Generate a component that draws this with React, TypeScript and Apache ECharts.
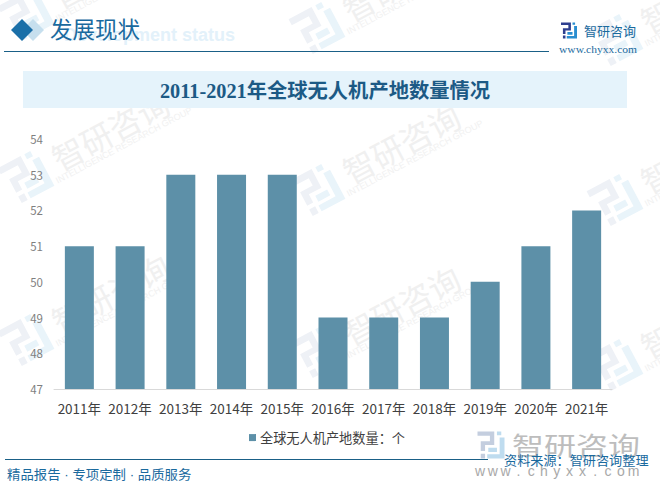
import React, { useEffect, useRef } from "react";
import * as echarts from "echarts";

const categories = ["2011年","2012年","2013年","2014年","2015年","2016年","2017年","2018年","2019年","2020年","2021年"];
const seriesName = "全球无人机产地数量：个";
const values = [51,51,53,53,53,49,49,49,50,51,52];
const chartTitle = "2011-2021年全球无人机产地数量情况";
const headerTitle = "发展现状";
const headerEnglish = "Development status";
const brand = "智研咨询";
const site = "www.chyxx.com";
const siteLetters = ["w","w","w",".","c","h","y","x","x",".","c","o","m"];
const slogan = "精品报告 · 专项定制 · 品质服务";
const source = "资料来源：智研咨询整理";

const LOGO_A = "M0 0H62V50H28V72H12V36H46V16H0ZM12 82H28V100H12Z";
const LOGO_B = "M72 0H88V14H72ZM82 22H100V100H36V84H82ZM40 60H72V76H40Z";
echarts.graphic.registerShape("logoShapeA", echarts.graphic.extendPath(LOGO_A, {}) as any);
echarts.graphic.registerShape("logoShapeB", echarts.graphic.extendPath(LOGO_B, {}) as any);

const CJK = '"Noto Sans CJK SC","Noto Sans",sans-serif';
const LATIN_CJK = '"Liberation Sans","Noto Sans CJK SC",sans-serif';
const SERIF = '"Liberation Serif","Noto Sans CJK SC",serif';

function logo(x: number, y: number, s: number, rot: number, c1: string, c2: string, z: number) {
  return {
    type: "group", x, y, rotation: rot, z, silent: true,
    children: [
      { type: "logoShapeA", scaleX: s, scaleY: s, x: -50 * s, y: -50 * s, z, style: { fill: c1 } },
      { type: "logoShapeB", scaleX: s, scaleY: s, x: -50 * s, y: -50 * s, z, style: { fill: c2 } },
    ],
  };
}

function watermarks() {
  const out: any[] = [];
  const rot = (28 * Math.PI) / 180;
  const cols = [
    { x: 26, ys: [15, 177, 340] },
    { x: 317, ys: [28, 190, 352] },
    { x: 615, ys: [40, 200, 365] },
  ];
  for (const c of cols) {
    for (const y of c.ys) {
      out.push(logo(c.x, y, 0.42, rot, "#eef1f6", "#e9f4fa", 0));
      out.push({
        type: "group", x: c.x + 84, y: y - 47, rotation: rot, z: 0, silent: true,
        children: [
          { type: "text", x: 0, y: 0, z: 0, style: { text: brand, font: `32px ${CJK}`, fill: "#f0f0f0", align: "center", verticalAlign: "middle" } },
          { type: "text", x: 5, y: 20, z: 0, style: { text: "INTELLIGENCE RESEARCH GROUP", font: `9px "Liberation Sans",sans-serif`, fill: "#f1f1f1", align: "center", verticalAlign: "middle" } },
        ],
      });
    }
  }
  return out;
}

export default function App() {
  const ref = useRef<HTMLDivElement>(null);
  useEffect(() => {
    document.body.style.margin = "0";
    const chart = echarts.init(ref.current!, null, { renderer: "svg" });
    const T = (x: number, y: number, text: string, font: string, fill: string, extra: any = {}, el: any = {}) => ({
      type: "text", x, y, z: 5, silent: true, ...el,
      style: { text, font, fill, verticalAlign: "middle", align: "left", ...extra },
    });
    chart.setOption({
      animation: false,
      backgroundColor: "#ffffff",
      grid: { left: 54, right: 48, top: 139, bottom: 106, containLabel: false },
      xAxis: {
        type: "category",
        data: categories,
        axisLine: { lineStyle: { color: "#d9d9d9", width: 1 } },
        axisTick: { show: false },
        axisLabel: { color: "#404040", fontSize: 13.5, fontFamily: CJK, margin: 12, interval: 0 },
      },
      yAxis: {
        type: "value",
        min: 47,
        max: 54,
        interval: 1,
        splitLine: { show: false },
        axisLine: { show: false },
        axisTick: { show: false },
        axisLabel: { color: "#7f7f7f", fontSize: 11.5, fontFamily: CJK, margin: 11, padding: [0, 0, 5, 0] },
      },
      legend: {
        show: true,
        left: 244,
        top: 426,
        icon: "rect",
        itemWidth: 7,
        itemHeight: 7,
        itemGap: 4,
        textStyle: { color: "#404040", fontSize: 13.2, fontFamily: CJK, padding: [0, 0, 0, -1] },
        data: [seriesName],
      },
      series: [
        { type: "bar", name: seriesName, data: values, barWidth: 29, itemStyle: { color: "#5d90a8" } },
      ],
      graphic: [
        ...watermarks(),
        { type: "rect", z: 1, silent: true, shape: { x: 23, y: 71, width: 604, height: 37 }, style: { fill: "#e5f3fb" } },
        T(325, 91, chartTitle, `bold 20.3px ${SERIF}`, "#1c5a85", { align: "center" }),
        T(235, 35, headerEnglish, `bold 18px "Liberation Sans",sans-serif`, "#e3f1fa", { align: "right" }),
        { type: "polygon", z: 4, silent: true, shape: { points: [[33, 19], [44, 30], [33, 41], [22, 30]] }, style: { fill: "#c6dfee" } },
        { type: "polygon", z: 5, silent: true, shape: { points: [[22, 19], [33, 30], [22, 41], [11, 30]] }, style: { fill: "#1a6fa8" } },
        T(50, 30, headerTitle, `22.5px ${SERIF}`, "#1a6a9e"),
        { type: "line", z: 5, silent: true, shape: { x1: 4, y1: 51.5, x2: 549, y2: 51.5 }, style: { stroke: "#1a6087", lineWidth: 1 } },
        logo(569, 30.5, 0.16, 0, "#2e3f8f", "#2a8ed0", 5),
        T(584, 30, brand, `13px ${CJK}`, "#1a6a9e"),
        T(559, 49.5, site, `10.5px ${SERIF}`, "#1a6a9e", {}, { scaleX: 1.1 }),
        logo(491, 445, 0.27, 0, "#c4cedf", "#bfdcef", 3),
        T(512, 444, brand, `32px ${CJK}`, "#bdbdbd", {}, { z: 3, scaleY: 0.78 }),
        ...siteLetters.map((ch, i) =>
          T(480 + i * 12.8, 471, ch, `14px "Liberation Sans",sans-serif`, "#a8a8a8", { align: "center" }, { z: 3 })
        ),
        { type: "line", z: 5, silent: true, shape: { x1: 5, y1: 459.5, x2: 488, y2: 459.5 }, style: { stroke: "#1a6087", lineWidth: 1 } },
        T(7, 474.5, slogan, `13px ${LATIN_CJK}`, "#1a6a9e", {}, { scaleX: 1.03 }),
        T(504, 460, source, `13px ${CJK}`, "#1a6a9e", {}, { scaleX: 1.012 }),
      ],
    });
    return () => chart.dispose();
  }, []);
  return <div ref={ref} style={{ width: 660, height: 495 }} />;
}
